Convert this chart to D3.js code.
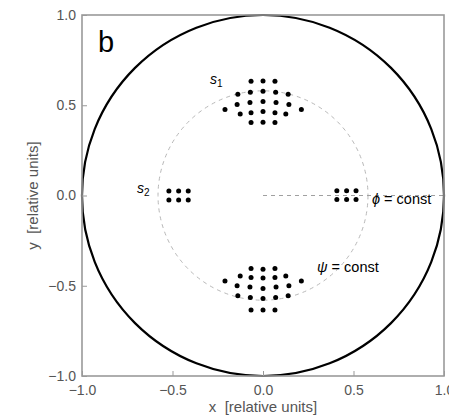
<!DOCTYPE html>
<html><head><meta charset="utf-8">
<script src="https://cdn.jsdelivr.net/npm/d3@7"></script>
<style>body{margin:0;background:#fff}svg{display:block}text{white-space:pre}</style>
</head><body>
<svg id="c" width="449" height="419"></svg>
<script>
// ---- data ----
const tickValues = [-1, -0.5, 0, 0.5, 1];
const tickLabels = ["\u22121.0", "\u22120.5", "0.0", "0.5", "1.0"];
const outerRadius = 1.0;
const guideRadius = 0.58;
// upper cluster (s1)
const topX = [-0.066, 0, 0.066,
  -0.139, -0.070, 0, 0.070, 0.139,
  -0.143, -0.072, 0, 0.072, 0.143,
  -0.210, 0.212,
  -0.126, -0.066, 0, 0.066, 0.126,
  -0.066, 0, 0.066];
const topY = [0.633, 0.635, 0.633,
  0.561, 0.572, 0.577, 0.572, 0.561,
  0.504, 0.515, 0.521, 0.515, 0.504,
  0.476, 0.476,
  0.452, 0.459, 0.465, 0.459, 0.452,
  0.405, 0.406, 0.405];
// lower cluster
const botX = [-0.066, 0, 0.066,
  -0.210, 0.212,
  -0.126, -0.066, 0, 0.066, 0.126,
  -0.143, -0.072, 0, 0.072, 0.143,
  -0.139, -0.070, 0, 0.070, 0.139,
  -0.066, 0, 0.066];
const botY = [-0.404, -0.408, -0.404,
  -0.474, -0.474,
  -0.446, -0.454, -0.457, -0.454, -0.446,
  -0.500, -0.507, -0.515, -0.507, -0.500,
  -0.555, -0.565, -0.570, -0.565, -0.555,
  -0.634, -0.634, -0.634];
// side clusters (s2)
const leftX = [-0.520, -0.466, -0.413, -0.520, -0.466, -0.413];
const leftY = [0.025, 0.025, 0.025, -0.025, -0.025, -0.025];
const rightX = [0.408, 0.462, 0.514, 0.408, 0.462, 0.514];
const rightY = [0.026, 0.026, 0.026, -0.022, -0.022, -0.022];

// ---- drawing ----
const svg = d3.select("#c");
const L = 82, R = 444, T = 15, B = 376;
const x = d3.scaleLinear().domain([-1, 1]).range([L, R]);
const y = d3.scaleLinear().domain([-1, 1]).range([B, T]);
const font = "'Liberation Sans', Arial, sans-serif";

const pts = [];
[[topX, topY], [botX, botY], [leftX, leftY], [rightX, rightY]].forEach(([xs, ys]) =>
  xs.forEach((v, i) => pts.push([v, ys[i]])));

// guide dashed circle
svg.append("ellipse")
  .attr("cx", x(0)).attr("cy", y(0))
  .attr("rx", x(guideRadius) - x(0)).attr("ry", y(0) - y(guideRadius))
  .attr("fill", "none").attr("stroke", "#b8b8b8").attr("stroke-width", 1)
  .attr("stroke-dasharray", "4,4");
// dashed horizontal line phi = const
svg.append("line")
  .attr("x1", x(0)).attr("x2", x(1)).attr("y1", y(0)).attr("y2", y(0))
  .attr("stroke", "#a0a0a0").attr("stroke-width", 1).attr("stroke-dasharray", "4,4");

// outer circle
svg.append("ellipse")
  .attr("cx", x(0)).attr("cy", y(0))
  .attr("rx", x(outerRadius) - x(0)).attr("ry", y(0) - y(outerRadius))
  .attr("fill", "none").attr("stroke", "#000").attr("stroke-width", 2.2);

// dots
svg.append("g").selectAll("circle").data(pts).join("circle")
  .attr("cx", d => x(d[0])).attr("cy", d => y(d[1])).attr("r", 2.5).attr("fill", "#000");

// axes (inward ticks)
const fmt = (d) => tickLabels[tickValues.indexOf(d)];
const gx = svg.append("g").attr("transform", `translate(0,${B})`)
  .call(d3.axisBottom(x).tickValues(tickValues).tickFormat(fmt).tickSizeInner(-5).tickSizeOuter(0).tickPadding(9));
const gy = svg.append("g").attr("transform", `translate(${L},0)`)
  .call(d3.axisLeft(y).tickValues(tickValues).tickFormat(fmt).tickSizeInner(-5).tickSizeOuter(0).tickPadding(6));
[gx, gy].forEach(g => {
  g.select(".domain").remove();
  g.selectAll("line").attr("stroke", "#999").attr("stroke-width", 1);
  g.selectAll("text").attr("fill", "#555").style("font-family", font).style("font-size", "14px");
});
// frame
svg.append("rect").attr("x", L).attr("y", T).attr("width", R - L).attr("height", B - T)
  .attr("fill", "none").attr("stroke", "#9a9a9a").attr("stroke-width", 1.6);

// axis titles
svg.append("text").attr("x", x(0)).attr("y", 412).attr("text-anchor", "middle")
  .attr("fill", "#555").style("font-family", font).style("font-size", "15px")
  .text("x  [relative units]");
svg.append("text").attr("transform", `translate(38,${y(0)}) rotate(-90)`).attr("text-anchor", "middle")
  .attr("fill", "#555").style("font-family", font).style("font-size", "15px")
  .text("y  [relative units]");

// panel letter
svg.append("text").attr("x", 98).attr("y", 52).attr("fill", "#000")
  .style("font-family", font).style("font-size", "29px").text("b");

// annotations
function sub(xp, yp, main, subTxt) {
  const t = svg.append("text").attr("x", xp).attr("y", yp).attr("fill", "#000")
    .style("font-family", font).style("font-size", "14px");
  t.append("tspan").style("font-style", "italic").text(main);
  t.append("tspan").attr("dy", 3).style("font-size", "10px").text(subTxt);
}
sub(210, 84, "s", "1");
sub(137, 192.5, "s", "2");
function eq(xp, yp, sym, rest) {
  const t = svg.append("text").attr("x", xp).attr("y", yp).attr("fill", "#000")
    .style("font-family", font).style("font-size", "14.5px");
  t.append("tspan").style("font-style", "italic").text(sym);
  t.append("tspan").text(rest);
}
eq(372, 204, "\u03D5", " = const");
eq(317, 271.5, "\u03C8", " = const");
</script>
</body></html>
